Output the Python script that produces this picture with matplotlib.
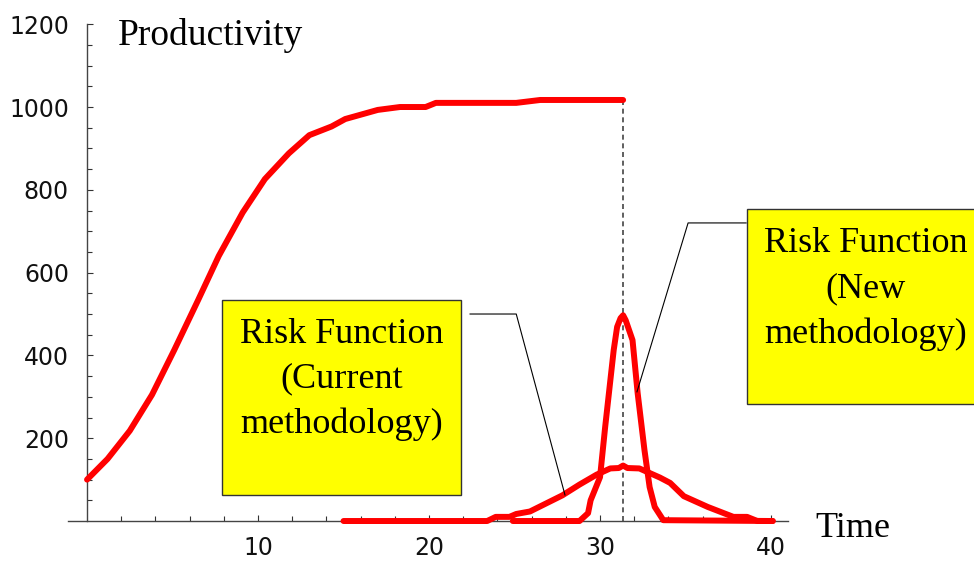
import matplotlib
matplotlib.use("Agg")
import matplotlib.pyplot as plt
from matplotlib.patches import Rectangle
from matplotlib.ticker import FixedLocator

# ---- data ----
prod_t = [0, 1.2, 2.5, 3.8, 5.1, 6.5, 7.7, 9.1, 10.4, 11.8, 13.0, 14.3, 15.1,
          17.0, 18.3, 19.8, 20.4, 25.1, 26.5, 31.35]
prod_v = [100, 150, 218, 305, 413, 534, 640, 745, 826, 888, 932, 953, 971,
          993, 1000, 1000, 1010, 1010, 1017, 1017]

cur_t = [15, 23.4, 23.9, 24.7, 25.1, 25.9, 27.8, 28.8, 29.8, 30.6, 31.1, 31.35,
         31.6, 32.3, 33.5, 34.1, 34.9, 36.3, 37.8, 38.6, 39.2, 40.1]
cur_v = [0, 0, 10, 10, 17, 23, 62, 88, 112, 127, 128, 134,
         128, 127, 105, 92, 60, 34, 10, 10, 0, 0]

new_t = [24.9, 28.8, 29.3, 29.45, 30.0, 30.3, 30.8, 31.0, 31.2, 31.35, 31.5,
         31.9, 32.2, 32.6, 32.9, 33.2, 33.7, 40.1]
new_v = [0, 0, 19, 50, 106, 227, 413, 469, 490, 497, 485,
         437, 309, 171, 82, 34, 2, 0]

x_major = [10, 20, 30, 40]
x_minor = [2, 4, 6, 8, 12, 14, 16, 18, 22, 24, 26, 28, 32, 34, 36, 38]
y_major = [200, 400, 600, 800, 1000, 1200]
y_minor = [50, 100, 150, 250, 300, 350, 450, 500, 550, 650, 700, 750,
           850, 900, 950, 1050, 1100, 1150]
t_cut = 31.35

label_y = "Productivity"
label_x = "Time"
box_cur_lines = ["Risk Function", "(Current", "methodology)"]
box_new_lines = ["Risk Function", "(New", "methodology)"]

# ---- figure ----
fig = plt.figure(figsize=(9.74, 5.62), dpi=100)
ax = fig.add_axes([0, 0, 1, 1])
ax.set_xlim(-5.09, 51.87)
ax.set_ylim(-99, 1258.5)

for s in ["top", "right"]:
    ax.spines[s].set_visible(False)
ax.spines["left"].set_position(("data", 0))
ax.spines["bottom"].set_position(("data", 0))
ax.spines["left"].set_bounds(0, 1200)
ax.spines["bottom"].set_bounds(-1.1, 41)
for s in ["left", "bottom"]:
    ax.spines[s].set_color("#444444")
    ax.spines[s].set_linewidth(1.0)

ax.xaxis.set_major_locator(FixedLocator(x_major))
ax.xaxis.set_minor_locator(FixedLocator(x_minor))
ax.yaxis.set_major_locator(FixedLocator(y_major))
ax.yaxis.set_minor_locator(FixedLocator(y_minor))
ax.tick_params(axis="both", which="both", direction="in", color="#333333", width=0.8)
ax.tick_params(axis="both", which="major", length=4.5)
ax.tick_params(axis="both", which="minor", length=3.5)
ax.tick_params(axis="x", which="major", pad=11, labelsize=17)
ax.tick_params(axis="y", which="major", pad=13, labelsize=17)
for lbl in ax.get_xticklabels() + ax.get_yticklabels():
    lbl.set_family("DejaVu Sans")
    lbl.set_color("#111111")

red = "#ff0000"
lw = 4.3
for t, v in [(prod_t, prod_v), (cur_t, cur_v), (new_t, new_v)]:
    ax.plot(t, v, color=red, lw=lw, solid_capstyle="round",
            solid_joinstyle="round", zorder=3)

# dashed vertical line
ax.plot([t_cut, t_cut], [0, prod_v[-1]], color="#444444", lw=1.2,
        linestyle=(0, (3, 2.2)), zorder=2)

serif = ["Liberation Serif", "DejaVu Serif"]
ax.text(1.83, 1151, label_y, fontsize=27, family=serif, ha="left", va="baseline")
ax.text(42.6, -38, label_x, fontsize=26, family=serif, ha="left", va="baseline")

# boxes
ax.add_patch(Rectangle((7.89, 62.8), 13.98, 471.0, facecolor="#ffff00",
                       edgecolor="#333333", lw=1.0, zorder=4, clip_on=False))
for line, yb in zip(box_cur_lines, [430, 324, 213]):
    ax.text(14.9, yb, line, fontsize=26, family=serif, ha="center",
            va="baseline", zorder=5)
ax.add_patch(Rectangle((38.6, 282.6), 14.0, 471.0, facecolor="#ffff00",
                       edgecolor="#333333", lw=1.0, zorder=4, clip_on=False))
for line, yb in zip(box_new_lines, [650, 541, 430]):
    ax.text(45.55, yb, line, fontsize=26, family=serif, ha="center",
            va="baseline", zorder=5)

# leader lines
ax.plot([22.4, 25.1, 27.95], [500, 500, 63], color="black", lw=0.8, zorder=6)
ax.plot([38.54, 35.15, 32.16], [720, 720, 312], color="black", lw=0.8, zorder=6)

fig.savefig("out.png", dpi=100)
